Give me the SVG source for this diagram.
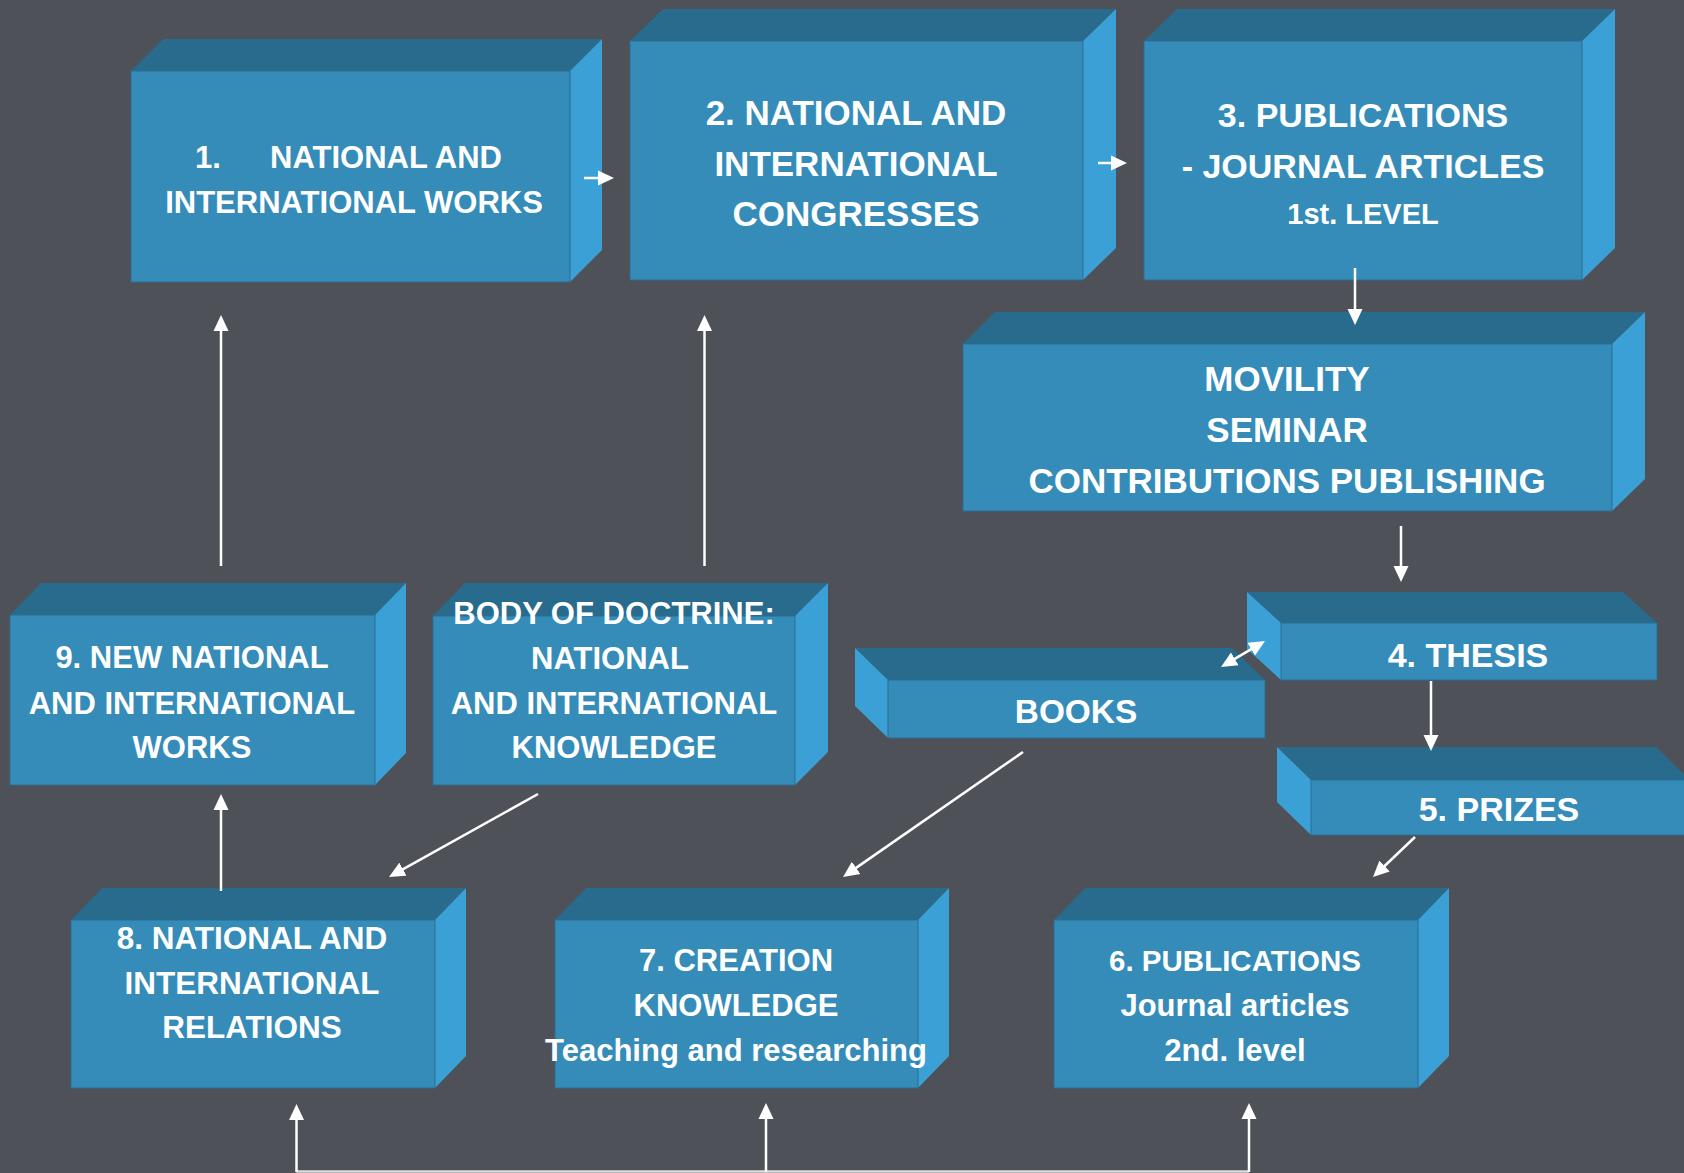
<svg xmlns="http://www.w3.org/2000/svg" width="1684" height="1173" viewBox="0 0 1684 1173">
<defs>
<style>
.front{fill:#358cb9;stroke:#2b6f95;stroke-width:1}
.top{fill:#286b8d}
.side{fill:#3ba0d5}
.t{font-family:"Liberation Sans",Arial,sans-serif;font-weight:bold;fill:#ffffff;text-anchor:middle}
.a{stroke:#ffffff;stroke-width:2.5;fill:none;marker-end:url(#ah)}
.l{stroke:#ffffff;stroke-width:2.5;fill:none}
</style>
<marker id="ah" markerUnits="userSpaceOnUse" markerWidth="16" markerHeight="16" refX="8" refY="8" orient="auto-start-reverse">
<path d="M0,0.5 L16,8 L0,15.5 z" fill="#ffffff"/>
</marker>
</defs>
<rect width="1684" height="1173" fill="#4e5157"/>

<g id="n1">
<polygon class="top" points="131,71 163,39 602,39 570,71"/>
<polygon class="side" points="570,71 602,39 602,250 570,282"/>
<rect class="front" x="131" y="71" width="439" height="211"/>
<text class="t" font-size="31"><tspan x="208" y="168">1.</tspan><tspan x="386" y="168">NATIONAL AND</tspan><tspan x="354" y="213">INTERNATIONAL WORKS</tspan></text>
</g>

<g id="n2">
<polygon class="top" points="630,41 663,9 1116,9 1083,41"/>
<polygon class="side" points="1083,41 1116,9 1116,248 1083,280"/>
<rect class="front" x="630" y="41" width="453" height="239"/>
<text class="t" font-size="35"><tspan x="856" y="124.5">2. NATIONAL AND</tspan><tspan x="856" y="175.5">INTERNATIONAL</tspan><tspan x="856" y="225.5">CONGRESSES</tspan></text>
</g>

<g id="n3">
<polygon class="top" points="1144,41 1177,9 1615,9 1582,41"/>
<polygon class="side" points="1582,41 1615,9 1615,248 1582,280"/>
<rect class="front" x="1144" y="41" width="438" height="239"/>
<text class="t"><tspan x="1363" y="127" font-size="34">3. PUBLICATIONS</tspan><tspan x="1363" y="178" font-size="34">- JOURNAL ARTICLES</tspan><tspan x="1363" y="223.5" font-size="29">1st. LEVEL</tspan></text>
</g>

<g id="movility">
<polygon class="top" points="963,344 995,312 1645,312 1612,344"/>
<polygon class="side" points="1612,344 1645,312 1645,479 1612,511"/>
<rect class="front" x="963" y="344" width="649" height="167"/>
<text class="t" font-size="35"><tspan x="1287" y="390.5">MOVILITY</tspan><tspan x="1287" y="441.5">SEMINAR</tspan><tspan x="1287" y="492.5">CONTRIBUTIONS PUBLISHING</tspan></text>
</g>

<g id="n4">
<polygon class="top" points="1281,623 1247,592 1623,592 1657,623"/>
<polygon class="side" points="1281,623 1247,592 1247,649 1281,680"/>
<rect class="front" x="1281" y="623" width="376" height="57"/>
<text class="t" font-size="34" x="1468" y="667">4. THESIS</text>
</g>

<g id="books">
<polygon class="top" points="888,680 855,648 1232,648 1265,680"/>
<polygon class="side" points="888,680 855,648 855,706 888,738"/>
<rect class="front" x="888" y="680" width="377" height="58"/>
<text class="t" font-size="33.4" x="1076" y="722.7">BOOKS</text>
</g>

<g id="n5">
<polygon class="top" points="1311,780 1277,747 1656,747 1690,780"/>
<polygon class="side" points="1311,780 1277,747 1277,802 1311,835"/>
<rect class="front" x="1311" y="780" width="380" height="55"/>
<text class="t" font-size="34" x="1499" y="821">5. PRIZES</text>
</g>

<g id="n9">
<polygon class="top" points="10,615 41,583 406,583 375,615"/>
<polygon class="side" points="375,615 406,583 406,753 375,785"/>
<rect class="front" x="10" y="615" width="365" height="170"/>
<text class="t" font-size="31"><tspan x="192" y="668">9. NEW NATIONAL</tspan><tspan x="192" y="714">AND INTERNATIONAL</tspan><tspan x="192" y="758">WORKS</tspan></text>
</g>

<g id="doctrine">
<polygon class="top" points="433,616 465,583 828,583 795,616"/>
<polygon class="side" points="795,616 828,583 828,752 795,785"/>
<rect class="front" x="433" y="616" width="362" height="169"/>
<text class="t" font-size="31"><tspan x="614" y="624.4">BODY OF DOCTRINE:</tspan><tspan x="610" y="669">NATIONAL</tspan><tspan x="614" y="714">AND INTERNATIONAL</tspan><tspan x="614" y="758">KNOWLEDGE</tspan></text>
</g>

<g id="n8">
<polygon class="top" points="71,920 102,888 466,888 435,920"/>
<polygon class="side" points="435,920 466,888 466,1056 435,1088"/>
<rect class="front" x="71" y="920" width="364" height="168"/>
<text class="t" font-size="31.5"><tspan x="252" y="949">8. NATIONAL AND</tspan><tspan x="252" y="994">INTERNATIONAL</tspan><tspan x="252" y="1038">RELATIONS</tspan></text>
</g>

<g id="n7">
<polygon class="top" points="555,920 586,888 949,888 918,920"/>
<polygon class="side" points="918,920 949,888 949,1056 918,1088"/>
<rect class="front" x="555" y="920" width="363" height="168"/>
<text class="t" font-size="31"><tspan x="736" y="971">7. CREATION</tspan><tspan x="736" y="1016">KNOWLEDGE</tspan><tspan x="736" y="1061">Teaching and researching</tspan></text>
</g>

<g id="n6">
<polygon class="top" points="1054,920 1085,888 1449,888 1418,920"/>
<polygon class="side" points="1418,920 1449,888 1449,1056 1418,1088"/>
<rect class="front" x="1054" y="920" width="364" height="168"/>
<text class="t"><tspan x="1235" y="971" font-size="29.5">6. PUBLICATIONS</tspan><tspan x="1235" y="1016" font-size="31">Journal articles</tspan><tspan x="1235" y="1061" font-size="31">2nd. level</tspan></text>
</g>

<g id="connectors">
<line class="a" x1="584" y1="178" x2="606" y2="178"/>
<line class="a" x1="1098" y1="163" x2="1119" y2="163"/>
<line class="a" x1="1355" y1="268" x2="1355" y2="317"/>
<line class="a" x1="1401" y1="526" x2="1401" y2="574"/>
<line class="a" x1="1227.9" y1="662.9" x2="1258.1" y2="645.1" style="marker-start:url(#ah)"/>
<line class="a" x1="1431" y1="681" x2="1431" y2="743"/>
<line class="a" x1="1415" y1="837" x2="1378.8" y2="871.5"/>
<line class="a" x1="1023" y1="752" x2="849.6" y2="872.4"/>
<line class="a" x1="538" y1="794" x2="396" y2="873.1"/>
<line class="a" x1="221" y1="566" x2="221" y2="323"/>
<line class="a" x1="704.5" y1="566" x2="704.5" y2="323"/>
<line class="a" x1="221" y1="891" x2="221" y2="802"/>
<line class="l" x1="296.5" y1="1171.5" x2="1249" y2="1171.5" style="stroke:#dcdcdc"/>
<line class="a" x1="296.5" y1="1172" x2="296.5" y2="1112"/>
<line class="a" x1="766" y1="1172" x2="766" y2="1111"/>
<line class="a" x1="1249" y1="1172" x2="1249" y2="1111"/>
</g>
</svg>
